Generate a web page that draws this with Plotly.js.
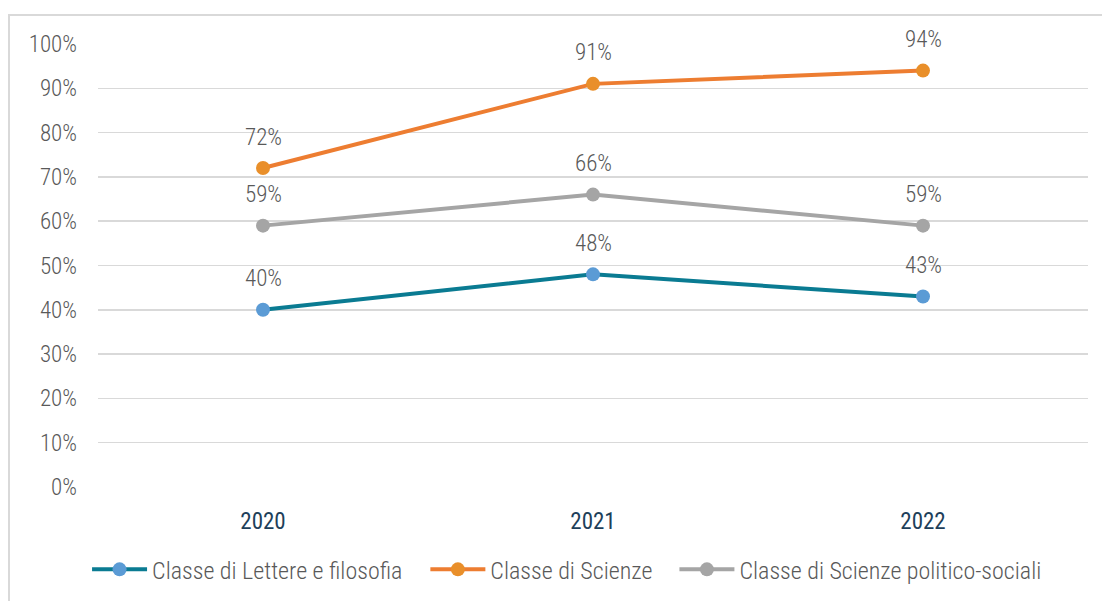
<!DOCTYPE html>
<html>
<head>
<meta charset="utf-8">
<script src="https://cdn.plot.ly/plotly-3.0.1.min.js"></script>
<style>
html,body{margin:0;padding:0;background:#fff;}
#wrap{position:relative;width:1102px;height:601px;}
#chart{position:absolute;left:0;top:0;width:1102px;height:601px;}
#frame{position:absolute;left:8px;top:14px;width:1094px;height:587px;border-top:2px solid #d9d9d9;border-left:2px solid #d9d9d9;pointer-events:none;}
</style>
</head>
<body>
<div id="wrap"><div id="chart"></div><div id="frame"></div></div>
<script>
const years = ["2020", "2021", "2022"];
const seriesNames = ["Classe di Lettere e filosofia", "Classe di Scienze", "Classe di Scienze politico-sociali"];
const lettere = [40, 48, 43];
const scienze = [72, 91, 94];
const politico = [59, 66, 59];
const yTicks = [0, 10, 20, 30, 40, 50, 60, 70, 80, 90, 100];

const lineColors = ["#0a7b92", "#ed7d31", "#a5a5a5"];
const markerColors = ["#5b9bd5", "#e98f2a", "#a5a5a5"];
const allValues = [lettere, scienze, politico];
const legendIds = ["legend", "legend2", "legend3"];
const font = "'Roboto Condensed', Roboto, sans-serif";

const traces = allValues.map((vals, i) => ({
  type: "scatter",
  mode: "lines+markers",
  x: years,
  y: vals,
  name: seriesNames[i],
  legend: legendIds[i],
  line: {color: lineColors[i], width: 4},
  marker: {color: markerColors[i], size: 14, line: {width: 0}},
  hoverinfo: "skip"
}));

const annotations = [];
allValues.forEach(vals => {
  vals.forEach((v, j) => {
    annotations.push({
      x: j, y: v, xref: "x", yref: "y",
      text: v + "%", showarrow: false,
      yanchor: "middle", yshift: 31,
      font: {family: font, size: 23, color: "#595959", weight: 300, stretch: "condensed"}
    });
  });
});

const legendFont = {family: font, size: 24, color: "#595959", weight: 300, stretch: "condensed"};
function legendAt(xPos) {
  return {
    orientation: "h", xref: "container", x: xPos, xanchor: "left",
    yref: "container", y: 0.052, yanchor: "middle",
    font: legendFont, itemwidth: 55, bgcolor: "rgba(0,0,0,0)"
  };
}

const layout = {
  width: 1102, height: 601,
  margin: {l: 98, r: 14, t: 44, b: 114},
  paper_bgcolor: "#ffffff",
  plot_bgcolor: "#ffffff",
  showlegend: true,
  legend: legendAt(0.079),
  legend2: legendAt(0.386),
  legend3: legendAt(0.612),
  xaxis: {
    type: "category",
    range: [-0.5, 2.5],
    showgrid: false, zeroline: false, showline: false,
    ticks: "",
    ticklabelstandoff: 18,
    tickfont: {family: font, size: 23, color: "#1e3f5a", weight: 400, stretch: "condensed"}
  },
  yaxis: {
    range: [0, 100],
    tickvals: yTicks,
    ticktext: yTicks.map(v => v + "%"),
    showgrid: true, gridcolor: "#d9d9d9", gridwidth: 1.5,
    zeroline: false, showline: false,
    ticks: "",
    ticklabelstandoff: 20,
    tickfont: {family: font, size: 23, color: "#595959", weight: 300, stretch: "condensed"}
  },
  annotations: annotations
};

Plotly.newPlot("chart", traces, layout, {displayModeBar: false, staticPlot: true});
</script>
</body>
</html>
